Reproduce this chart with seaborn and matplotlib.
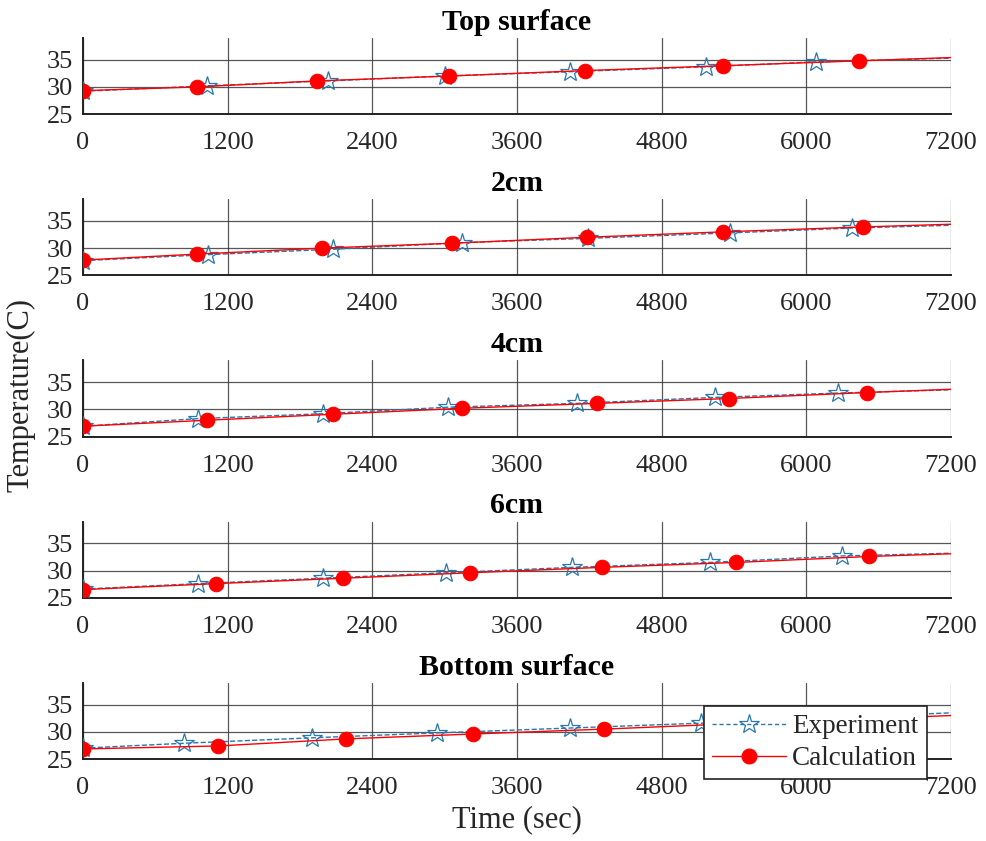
import numpy as np
import pandas as pd
import matplotlib
matplotlib.use("Agg")
import matplotlib.pyplot as plt
from matplotlib.lines import Line2D
import seaborn as sns

titles = ["Top surface", "2cm", "4cm", "6cm", "Bottom surface"]

time_exp_top = [0, 1030, 2030, 3000, 4040, 5170, 6080, 7200]
exp_top = [29.2, 30.2, 31.1, 32.0, 32.8, 33.7, 34.6, 35.3]
time_calc_top = [0, 945, 1940, 3040, 4160, 5310, 6440, 7200]
calc_top = [29.3, 30.0, 31.1, 32.0, 33.0, 33.9, 34.8, 35.4]

time_exp_2cm = [0, 1040, 2075, 3140, 4190, 5365, 6380, 7200]
exp_2cm = [27.7, 28.8, 29.8, 31.0, 31.8, 32.8, 33.7, 34.2]
time_calc_2cm = [0, 945, 1980, 3060, 4180, 5310, 6470, 7200]
calc_2cm = [27.8, 28.9, 30.0, 30.9, 32.0, 33.0, 33.9, 34.4]

time_exp_4cm = [0, 955, 1990, 3030, 4095, 5240, 6260, 7200]
exp_4cm = [26.9, 28.3, 29.2, 30.4, 31.1, 32.2, 33.0, 33.6]
time_calc_4cm = [0, 1030, 2075, 3140, 4260, 5355, 6500, 7200]
calc_4cm = [26.9, 28.0, 29.1, 30.2, 31.1, 32.0, 33.1, 33.7]

time_exp_6cm = [0, 955, 1990, 3015, 4060, 5200, 6300, 7200]
exp_6cm = [26.6, 27.6, 28.6, 29.6, 30.6, 31.5, 32.7, 33.2]
time_calc_6cm = [0, 1100, 2160, 3210, 4305, 5415, 6520, 7200]
calc_6cm = [26.5, 27.6, 28.6, 29.6, 30.6, 31.5, 32.6, 33.1]

time_exp_bot = [0, 840, 1900, 2935, 4040, 5130, 6220, 7200]
exp_bot = [27.0, 27.9, 28.9, 29.8, 30.7, 31.6, 32.6, 33.5]
time_calc_bot = [0, 1120, 2180, 3235, 4320, 5400, 6500, 7200]
calc_bot = [26.85, 27.4, 28.7, 29.6, 30.5, 31.5, 32.4, 33.0]

x_ticks = [0, 1200, 2400, 3600, 4800, 6000, 7200]
y_ticks = [25, 30, 35]

panels = [
    (time_exp_top, exp_top, time_calc_top, calc_top),
    (time_exp_2cm, exp_2cm, time_calc_2cm, calc_2cm),
    (time_exp_4cm, exp_4cm, time_calc_4cm, calc_4cm),
    (time_exp_6cm, exp_6cm, time_calc_6cm, calc_6cm),
    (time_exp_bot, exp_bot, time_calc_bot, calc_bot),
]

sns.set_theme(style="white")
plt.rcParams["font.family"] = ["Liberation Serif", "DejaVu Serif"]

exp_color = "#2878B0"
calc_color = "#FF0000"
FS = 19

fig, axes = plt.subplots(5, 1, figsize=(9.87, 8.41), dpi=100)
fig.subplots_adjust(left=83/987, right=951/987, top=1-38/841, bottom=1-759/841, hspace=1.12)

for ax, title, (te, ye, tc, yc) in zip(axes, titles, panels):
    df_e = pd.DataFrame({"t": te, "T": ye})
    df_c = pd.DataFrame({"t": tc, "T": yc})
    sns.lineplot(data=df_e, x="t", y="T", ax=ax, color=exp_color, linestyle="--",
                 linewidth=1.0, marker="*", markersize=15, markerfacecolor="none",
                 markeredgecolor=exp_color, markeredgewidth=0.9,
                 markevery=list(range(len(te) - 1)), dashes=(3, 2), zorder=3)
    sns.lineplot(data=df_c, x="t", y="T", ax=ax, color=calc_color, linestyle="-",
                 linewidth=1.0, marker="o", markersize=10.5, markerfacecolor=calc_color,
                 markeredgecolor=calc_color, markevery=list(range(len(tc) - 1)), zorder=4)
    ax.set_xlim(0, 7200)
    ax.set_ylim(25, 39)
    ax.set_xticks(x_ticks)
    ax.set_yticks(y_ticks)
    ax.grid(True, color="#3a3a3a", linewidth=0.9, alpha=0.85)
    ax.set_axisbelow(True)
    for s in ["top", "right"]:
        ax.spines[s].set_visible(False)
    for s in ["left", "bottom"]:
        ax.spines[s].set_color("#222222")
        ax.spines[s].set_linewidth(1.4)
    ax.tick_params(axis="both", direction="in", length=6, width=1.4, colors="#222222",
                   labelsize=FS, labelcolor="#262626")
    ax.tick_params(axis="x", pad=13)
    ax.tick_params(axis="y", pad=7)
    ax.set_xlabel("")
    ax.set_ylabel("")
    ax.set_title(title, fontsize=21.5, fontweight="bold", pad=6, color="black")

fig.text(517/987, 1-820/841, "Time (sec)", ha="center", va="center",
         fontsize=22, color="#262626")
fig.text(21/987, 1-395/841, "Temperature(C)", rotation=90, va="center", ha="center",
         fontsize=22, color="#262626")

handles = [
    Line2D([], [], color=exp_color, linestyle="--", dashes=(3, 2), linewidth=1.0,
           marker="*", markersize=15, markerfacecolor="none", markeredgecolor=exp_color,
           markeredgewidth=0.9),
    Line2D([], [], color=calc_color, linewidth=1.0, marker="o", markersize=10.5,
           markerfacecolor=calc_color, markeredgecolor=calc_color),
]
leg = axes[-1].legend(handles, ["Experiment", "Calculation"], loc="lower right",
                      bbox_to_anchor=(0.972, -0.265), fontsize=19.5, frameon=True,
                      fancybox=False, edgecolor="#222222", framealpha=1,
                      handlelength=2.7, handletextpad=0.25, borderpad=0.3,
                      labelspacing=0.25, borderaxespad=0)
leg.get_frame().set_linewidth(1.2)
leg.set_zorder(10)

fig.savefig("out.png", dpi=100)
